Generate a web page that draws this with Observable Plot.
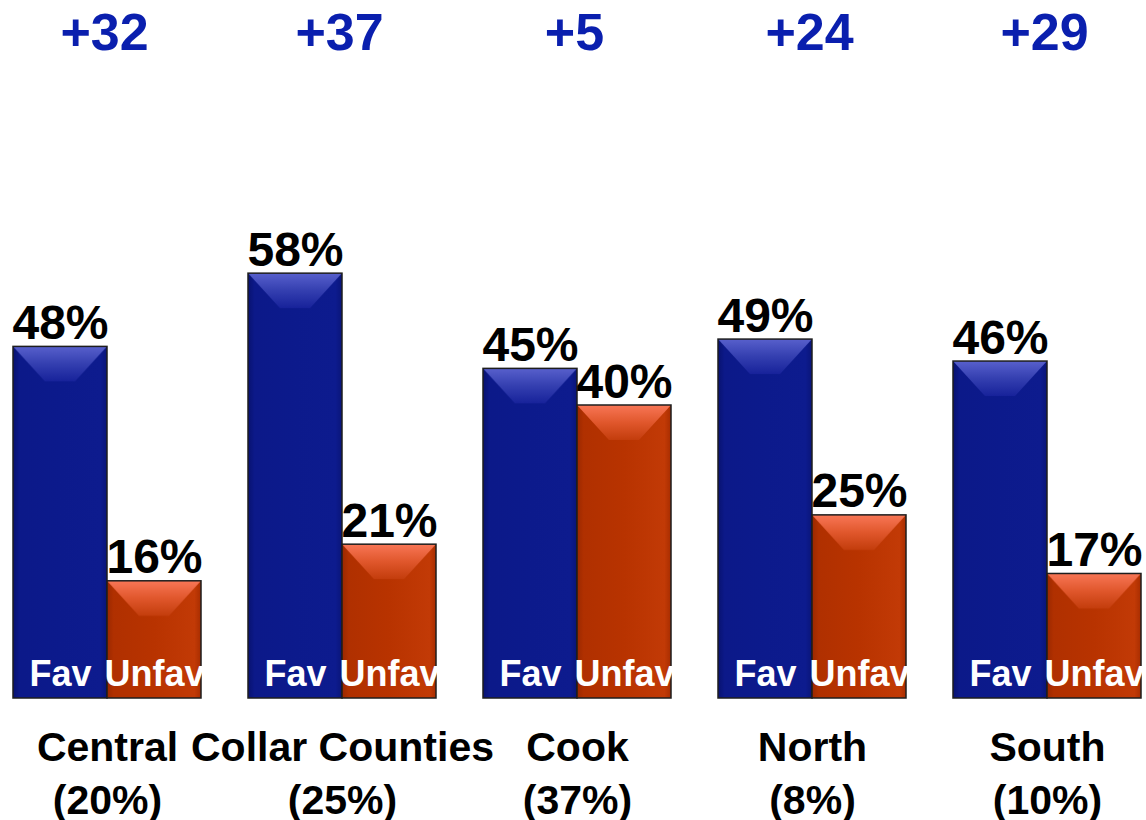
<!DOCTYPE html>
<html><head><meta charset="utf-8">
<script src="https://cdn.jsdelivr.net/npm/d3@7"></script>
<script src="https://cdn.jsdelivr.net/npm/@observablehq/plot@0.6"></script>
<style>
html,body{margin:0;padding:0;background:#fff}
#chart svg{display:block;overflow:visible}
</style>
</head><body>
<svg id="defs-holder" width="0" height="0" style="position:absolute"></svg>
<div id="chart"></div>
<script>
// ---- data ----
const regions = ["Central", "Collar Counties", "Cook", "North", "South"];
const regionShares = ["20%", "25%", "37%", "8%", "10%"];
const favorable = [48, 58, 45, 49, 46];
const unfavorable = [16, 21, 40, 25, 17];
const netLabels = ["+32", "+37", "+5", "+24", "+29"];
const seriesNames = ["Fav", "Unfav"];

const rows = regions.flatMap((r, i) => [
  {region: r, series: "Fav", value: favorable[i]},
  {region: r, series: "Unfav", value: unfavorable[i]}
]);
const regionRows = regions.map((r, i) => ({region: r, share: regionShares[i], net: netLabels[i]}));

const FONT = "'Liberation Sans', Arial, Helvetica, sans-serif";

const chart = Plot.plot({
  width: 1146,
  height: 820,
  marginLeft: 11,
  marginRight: 4,
  marginTop: 112,
  marginBottom: 122,
  style: {fontFamily: FONT, background: "#fff", overflow: "visible"},
  fx: {domain: regions, paddingInner: 0.2, paddingOuter: 0, axis: null, label: null},
  x: {domain: seriesNames, padding: 0, axis: null, label: null},
  y: {domain: [0, 80], axis: null, label: null},
  marks: [
    Plot.barY(rows.filter(d => d.series === "Fav"), {
      fx: "region", x: "series", y: "value",
      fill: "url(#pFav)", stroke: "#1e1e1e", strokeWidth: 1.5
    }),
    Plot.barY(rows.filter(d => d.series === "Unfav"), {
      fx: "region", x: "series", y: "value",
      fill: "url(#pUnf)", stroke: "#1e1e1e", strokeWidth: 1.5
    }),
    Plot.text(rows, {
      fx: "region", x: "series", y: "value",
      text: d => d.value + "%",
      lineAnchor: "bottom", dy: -8,
      fontSize: 48, fontWeight: "bold", fill: "#000", fontFamily: FONT
    }),
    Plot.text(rows, {
      fx: "region", x: "series", frameAnchor: "bottom",
      text: "series",
      lineAnchor: "bottom", dy: -13,
      fontSize: 36, fontWeight: "bold", fill: "#fff", fontFamily: FONT
    }),
    Plot.text(regionRows, {
      fx: "region", frameAnchor: "top",
      text: "net",
      lineAnchor: "bottom", dy: -63,
      fontSize: 52, fontWeight: "bold", fill: "#0a1fae", fontFamily: FONT, dx: -3
    }),
    Plot.text(regionRows, {
      fx: "region", frameAnchor: "bottom",
      text: d => d.region + "\n(" + d.share + ")",
      lineAnchor: "top", dy: 26, lineHeight: 1.27,
      fontSize: 41, fontWeight: "bold", fill: "#000", fontFamily: FONT
    })
  ]
});
document.getElementById("chart").appendChild(chart);

// ---- bevel / gradient paint servers (styling only) ----
const bw = chart.scale("fx").bandwidth / 2;
const bev = 35;
function paint(id, sideStops, topStops) {
  return `
  <linearGradient id="h${id}" x1="0" y1="0" x2="1" y2="0">
    ${sideStops.map(([o, c]) => `<stop offset="${o}" stop-color="${c}"/>`).join("")}
  </linearGradient>
  <linearGradient id="v${id}" x1="0" y1="0" x2="0" y2="1">
    ${topStops.map(([o, c]) => `<stop offset="${o}" stop-color="${c}"/>`).join("")}
  </linearGradient>
  <pattern id="p${id}" patternUnits="objectBoundingBox" x="0" y="0" width="1" height="1" patternContentUnits="userSpaceOnUse">
    <rect x="0" y="0" width="${bw}" height="900" fill="url(#h${id})"/>
    <polygon points="0,0 ${bw},0 ${bw * 0.66},${bev} ${bw * 0.34},${bev}" fill="url(#v${id})"/>
  </pattern>`;
}
document.getElementById("defs-holder").innerHTML = "<defs>" +
  paint("Fav",
    [[0, "#081270"], [0.07, "#0c1989"], [0.5, "#0c1a8c"], [0.93, "#0d1b8e"], [1, "#0a1579"]],
    [[0, "#5860cc"], [0.5, "#343fb0"], [1, "#17229a"]]) +
  paint("Unf",
    [[0, "#9a2800"], [0.07, "#b03000"], [0.5, "#b83300"], [0.93, "#c23a06"], [1, "#a82d00"]],
    [[0, "#f87656"], [0.5, "#e0572c"], [1, "#c33d0c"]]) +
  "</defs>";
</script>
</body></html>
